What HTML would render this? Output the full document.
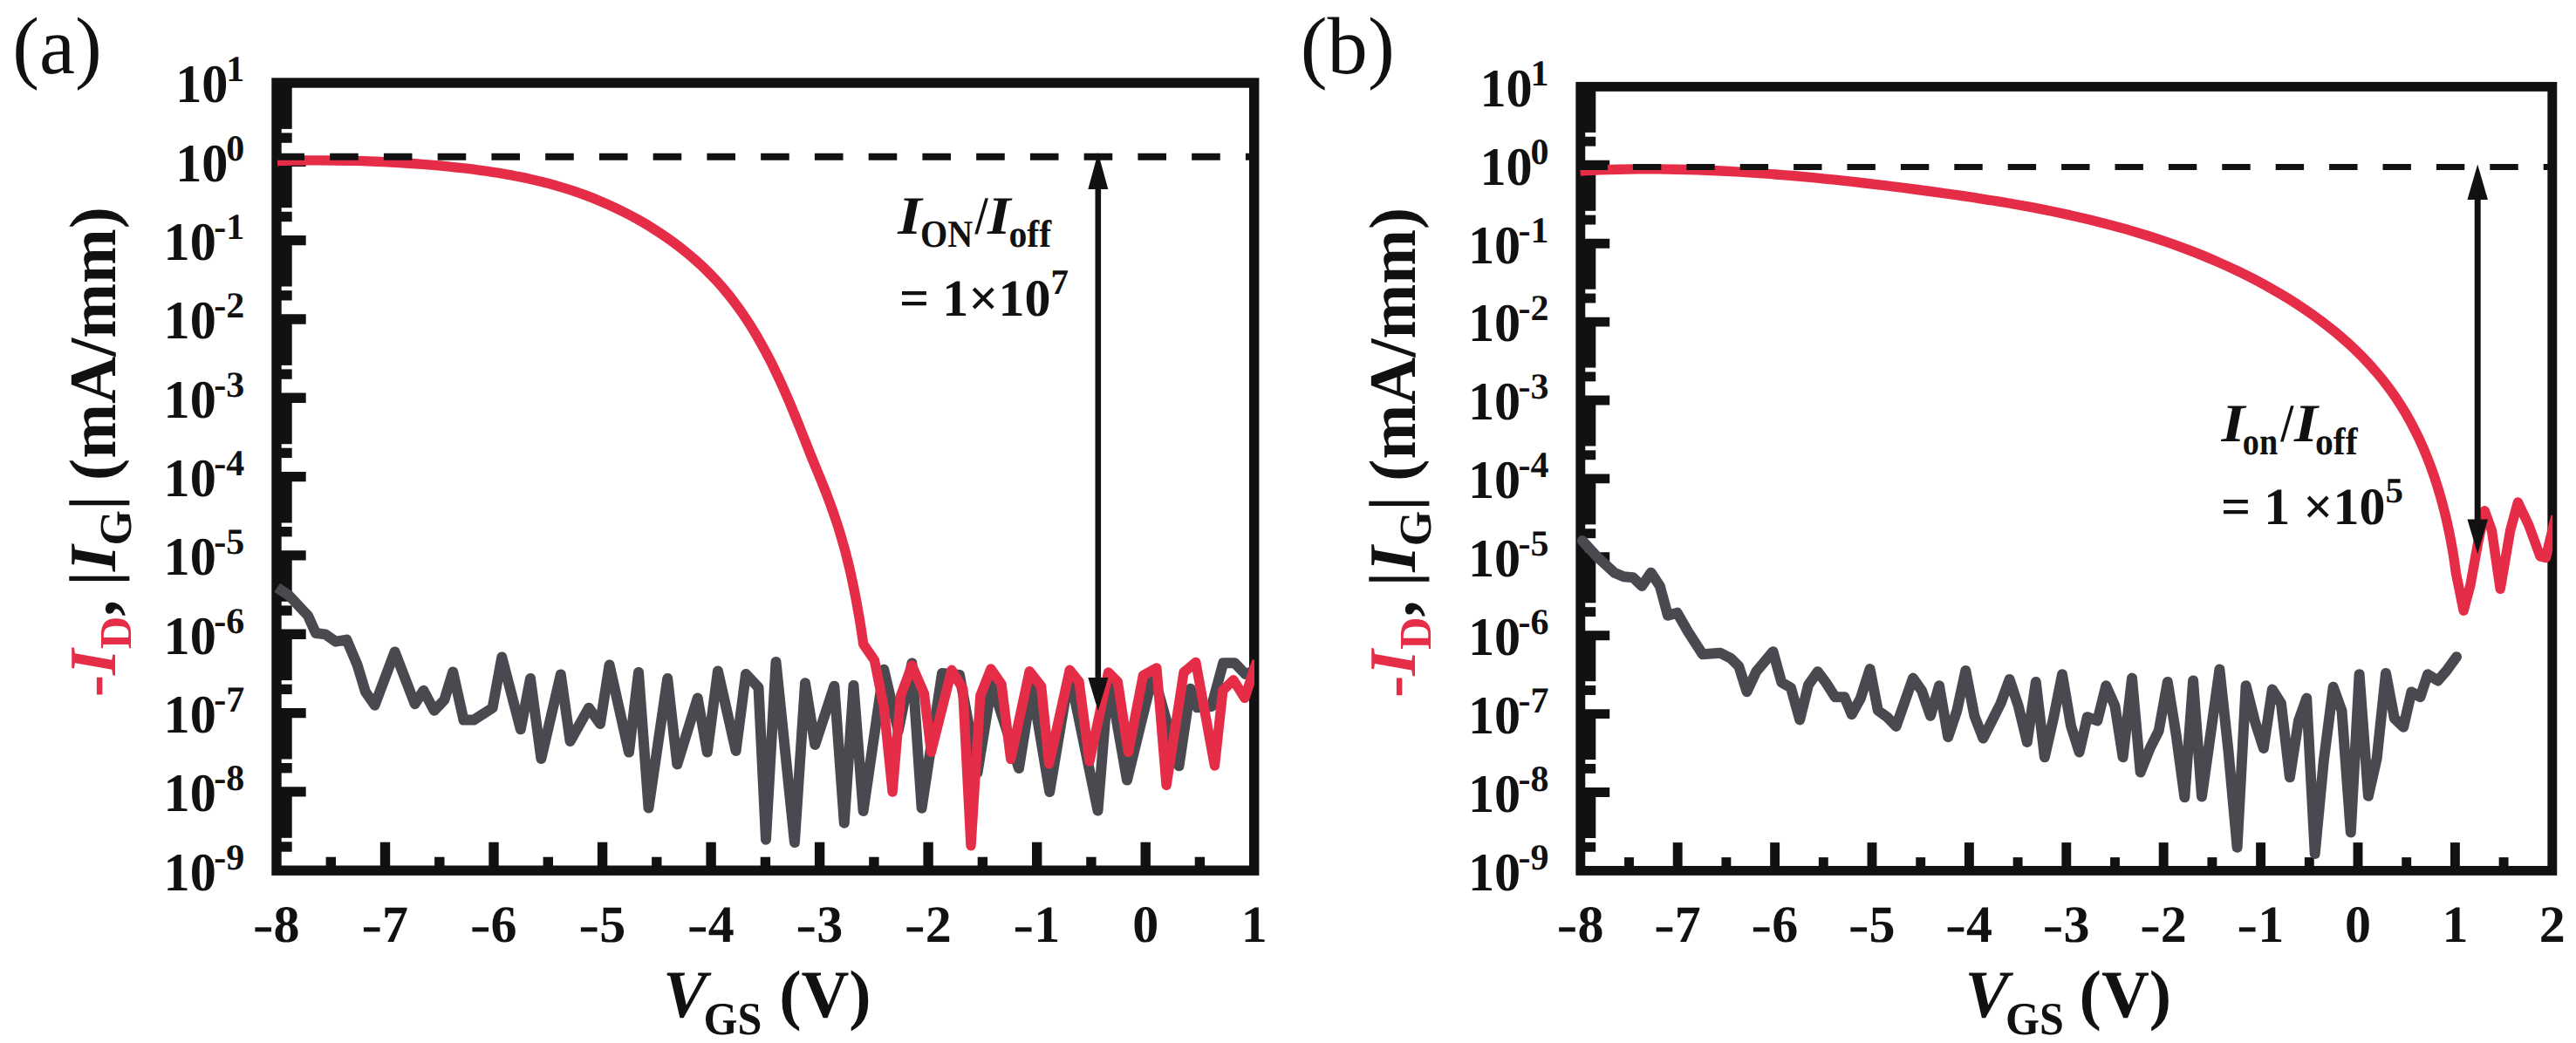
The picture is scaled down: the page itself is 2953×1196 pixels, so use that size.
<!DOCTYPE html>
<html lang="en"><head><meta charset="utf-8"><title>Transfer characteristics</title>
<style>html,body{margin:0;padding:0;background:#fff}svg{display:block} text{font-family:'Liberation Serif', 'Times New Roman', Times, serif;font-weight:bold;fill:#111111}</style></head><body>
<svg width="2953" height="1196" viewBox="0 0 2953 1196" text-rendering="geometricPrecision">
<rect width="2953" height="1196" fill="#ffffff"/>
<defs><clipPath id="clipA"><rect x="300" y="100" width="1138" height="895"/></clipPath><clipPath id="clipB"><rect x="1790" y="104" width="1136.2" height="891"/></clipPath></defs>
<!-- panel (a) -->
<text transform="translate(14.17,84.20) scale(0.9934,1)" font-size="93" style="font-weight:normal">(a)</text>
<g stroke="#111111" stroke-width="11.4" fill="none" stroke-linecap="butt">
<line x1="317.0" y1="158.1" x2="334.7" y2="158.1"/>
<rect x="317.0" y="95.0" width="17.7" height="52.9" fill="#111111" stroke="none"/>
<line x1="317.0" y1="185.3" x2="350.7" y2="185.3"/>
<line x1="317.0" y1="248.5" x2="334.7" y2="248.5"/>
<rect x="317.0" y="185.3" width="17.7" height="52.9" fill="#111111" stroke="none"/>
<line x1="317.0" y1="275.6" x2="350.7" y2="275.6"/>
<line x1="317.0" y1="338.8" x2="334.7" y2="338.8"/>
<rect x="317.0" y="275.6" width="17.7" height="52.9" fill="#111111" stroke="none"/>
<line x1="317.0" y1="366.0" x2="350.7" y2="366.0"/>
<line x1="317.0" y1="429.1" x2="334.7" y2="429.1"/>
<rect x="317.0" y="366.0" width="17.7" height="52.9" fill="#111111" stroke="none"/>
<line x1="317.0" y1="456.3" x2="350.7" y2="456.3"/>
<line x1="317.0" y1="519.4" x2="334.7" y2="519.4"/>
<rect x="317.0" y="456.3" width="17.7" height="52.9" fill="#111111" stroke="none"/>
<line x1="317.0" y1="546.6" x2="350.7" y2="546.6"/>
<line x1="317.0" y1="609.7" x2="334.7" y2="609.7"/>
<rect x="317.0" y="546.6" width="17.7" height="52.9" fill="#111111" stroke="none"/>
<line x1="317.0" y1="636.9" x2="350.7" y2="636.9"/>
<line x1="317.0" y1="700.1" x2="334.7" y2="700.1"/>
<rect x="317.0" y="636.9" width="17.7" height="52.9" fill="#111111" stroke="none"/>
<line x1="317.0" y1="727.2" x2="350.7" y2="727.2"/>
<line x1="317.0" y1="790.4" x2="334.7" y2="790.4"/>
<rect x="317.0" y="727.2" width="17.7" height="52.9" fill="#111111" stroke="none"/>
<line x1="317.0" y1="817.6" x2="350.7" y2="817.6"/>
<line x1="317.0" y1="880.7" x2="334.7" y2="880.7"/>
<rect x="317.0" y="817.6" width="17.7" height="52.9" fill="#111111" stroke="none"/>
<line x1="317.0" y1="907.9" x2="350.7" y2="907.9"/>
<line x1="317.0" y1="971.0" x2="334.7" y2="971.0"/>
<rect x="317.0" y="907.9" width="17.7" height="52.9" fill="#111111" stroke="none"/>
<line x1="379.3" y1="998.2" x2="379.3" y2="982.7"/>
<line x1="441.5" y1="998.2" x2="441.5" y2="965.7"/>
<line x1="503.8" y1="998.2" x2="503.8" y2="982.7"/>
<line x1="566.0" y1="998.2" x2="566.0" y2="965.7"/>
<line x1="628.3" y1="998.2" x2="628.3" y2="982.7"/>
<line x1="690.6" y1="998.2" x2="690.6" y2="965.7"/>
<line x1="752.8" y1="998.2" x2="752.8" y2="982.7"/>
<line x1="815.1" y1="998.2" x2="815.1" y2="965.7"/>
<line x1="877.4" y1="998.2" x2="877.4" y2="982.7"/>
<line x1="939.6" y1="998.2" x2="939.6" y2="965.7"/>
<line x1="1001.9" y1="998.2" x2="1001.9" y2="982.7"/>
<line x1="1064.1" y1="998.2" x2="1064.1" y2="965.7"/>
<line x1="1126.4" y1="998.2" x2="1126.4" y2="982.7"/>
<line x1="1188.7" y1="998.2" x2="1188.7" y2="965.7"/>
<line x1="1250.9" y1="998.2" x2="1250.9" y2="982.7"/>
<line x1="1313.2" y1="998.2" x2="1313.2" y2="965.7"/>
<line x1="1375.4" y1="998.2" x2="1375.4" y2="982.7"/>
<rect x="317.0" y="95.0" width="1120.7" height="903.2"/>
</g>
<g clip-path="url(#clipA)">
<polyline fill="none" stroke-width="12" stroke-linejoin="round" stroke-linecap="butt" stroke="#494A50" points="317.7,673.7 331.5,683.0 353.0,706.0 362.0,726.0 373.0,727.4 385.0,735.7 397.4,733.6 409.7,762.7 419.0,793.4 429.6,808.7 452.6,747.4 475.6,807.2 485.5,791.8 497.7,814.8 509.4,802.6 519.2,770.4 531.5,825.6 543.0,825.6 564.6,811.8 575.3,753.5 596.8,836.3 608.0,778.0 620.4,870.0 642.8,773.4 653.6,850.0 675.0,811.8 688.0,830.0 698.6,762.5 721.0,862.6 732.0,771.0 743.5,926.5 765.2,778.0 776.3,876.4 799.7,800.5 810.8,862.6 822.9,769.4 843.6,860.9 855.0,772.9 869.5,788.4 878.0,962.7 889.5,759.0 910.9,966.0 923.0,783.2 934.3,854.0 956.4,786.7 967.8,943.7 978.5,786.0 989.6,929.9 1013.2,767.7 1029.8,838.0 1045.4,760.5 1056.6,926.7 1080.0,772.0 1100.0,774.0 1120.5,886.0 1137.0,784.0 1168.0,881.0 1183.0,787.0 1203.2,908.0 1226.0,772.0 1258.5,929.5 1271.0,775.0 1292.0,894.6 1322.0,772.0 1351.5,878.3 1364.6,789.8 1372.6,811.3 1388.8,810.0 1402.2,760.3 1415.6,760.3 1427.5,773.0 1441.0,768.0"/>
<path fill="none" stroke-width="11.4" stroke-linejoin="round" stroke-linecap="butt" stroke="#E52D47" d="M318.0,184.5C320.7,184.4 328.8,184.2 334.2,184.1C339.6,184.0 345.0,184.0 350.4,183.9C355.8,183.9 361.2,183.9 366.6,183.9C372.1,183.9 377.5,183.9 382.9,184.0C388.4,184.0 393.8,184.1 399.2,184.2C404.7,184.3 410.1,184.5 415.6,184.6C421.0,184.8 426.4,185.0 431.9,185.2C437.3,185.5 442.8,185.7 448.2,186.0C453.7,186.3 459.1,186.6 464.5,187.0C470.0,187.3 475.4,187.7 480.8,188.1C486.3,188.5 491.7,189.0 497.1,189.4C502.5,189.9 507.9,190.4 513.3,190.9C518.7,191.5 524.1,192.1 529.5,192.7C534.9,193.3 540.3,193.9 545.7,194.6C551.0,195.3 556.4,196.1 561.7,196.9C567.1,197.7 572.4,198.5 577.8,199.4C583.1,200.4 588.4,201.3 593.7,202.4C599.0,203.4 604.3,204.5 609.5,205.7C614.8,206.9 620.0,208.2 625.3,209.6C630.5,210.9 635.7,212.3 640.9,213.9C646.1,215.4 651.3,217.0 656.4,218.7C661.6,220.5 666.7,222.3 671.9,224.2C677.0,226.1 682.0,228.1 687.1,230.2C692.1,232.3 697.2,234.5 702.1,236.8C707.1,239.1 712.0,241.5 716.9,244.0C721.8,246.5 726.6,249.1 731.4,251.8C736.1,254.5 740.9,257.2 745.5,260.1C750.2,263.0 754.8,265.9 759.3,269.0C763.8,272.0 768.3,275.2 772.6,278.4C777.0,281.6 781.3,284.9 785.5,288.4C789.7,291.8 793.8,295.3 797.9,298.9C801.9,302.4 805.9,306.1 809.7,309.9C813.5,313.7 817.3,317.5 820.9,321.4C824.6,325.4 828.1,329.4 831.5,333.5C835.0,337.6 838.3,341.8 841.5,346.1C844.7,350.4 847.9,354.7 850.9,359.1C854.0,363.5 856.9,368.0 859.8,372.5C862.7,377.1 865.5,381.7 868.2,386.3C870.9,391.0 873.5,395.7 876.1,400.5C878.7,405.2 881.2,410.1 883.7,414.9C886.1,419.7 888.5,424.6 890.8,429.6C893.2,434.5 895.5,439.5 897.7,444.5C899.9,449.4 902.1,454.5 904.3,459.5C906.4,464.5 908.5,469.6 910.6,474.7C912.7,479.8 914.8,484.9 916.8,490.0C918.8,495.0 920.8,500.2 922.9,505.3C924.9,510.4 926.9,515.5 928.9,520.6C931.0,525.7 933.0,530.8 935.1,535.9C937.2,541.0 939.3,546.1 941.4,551.1C943.4,556.2 945.4,561.2 947.4,566.2C949.3,571.2 951.2,576.2 953.0,581.2C954.8,586.2 956.5,591.2 958.2,596.3C959.9,601.3 961.5,606.3 963.0,611.4C964.5,616.4 966.0,621.5 967.4,626.6C968.9,631.8 970.2,636.9 971.5,642.2C972.8,647.4 974.1,652.7 975.3,658.0C976.5,663.4 977.6,668.8 978.7,674.2C979.8,679.6 980.9,685.1 981.9,690.5C982.9,695.9 983.8,701.4 984.8,706.8C985.7,712.2 986.6,717.6 987.4,723.0C988.2,728.3 989.4,736.2 989.8,738.8L1002.5,757.3L1013.4,812.0L1023.1,908.0L1032.5,797.9L1045.4,763.0L1059.4,795.2L1067.4,862.3L1091.0,768.3L1103.7,789.8L1113.0,969.7L1123.8,797.9L1135.9,767.0L1148.0,784.4L1158.7,870.4L1180.2,769.7L1193.6,787.1L1202.6,875.8L1226.3,768.3L1237.0,781.8L1249.0,873.0L1270.6,771.0L1281.3,781.8L1293.4,862.4L1310.4,774.5L1325.9,765.9L1337.1,900.5L1357.0,771.0L1370.8,759.5L1392.4,878.0L1401.8,791.8L1413.9,779.7L1426.9,800.4L1438.1,765.9L1441.0,758.0"/>
</g>
<line x1="316.4" y1="179.8" x2="1437.7" y2="179.8" stroke="#111111" stroke-width="8" stroke-dasharray="32.6 29.15"/>
<line x1="1258.8" y1="215.0" x2="1258.8" y2="779.0" stroke="#111111" stroke-width="6.6"/>
<polygon fill="#111111" points="1258.8,175.0 1247.3,217.0 1270.3,217.0"/>
<polygon fill="#111111" points="1258.8,815.0 1247.3,777.0 1270.3,777.0"/>
<text transform="translate(201.18,117.30) scale(0.9723,1)" font-size="62">10</text>
<text x="280.3" y="93.3" text-anchor="end" font-size="42">1</text>
<text transform="translate(201.18,207.62) scale(0.9723,1)" font-size="62">10</text>
<text x="280.3" y="183.6" text-anchor="end" font-size="42">0</text>
<text transform="translate(187.58,297.94) scale(0.9723,1)" font-size="62">10</text>
<text x="280.3" y="273.9" text-anchor="end" font-size="42">-1</text>
<text transform="translate(187.58,388.26) scale(0.9723,1)" font-size="62">10</text>
<text x="280.3" y="364.3" text-anchor="end" font-size="42">-2</text>
<text transform="translate(187.58,478.58) scale(0.9723,1)" font-size="62">10</text>
<text x="280.3" y="454.6" text-anchor="end" font-size="42">-3</text>
<text transform="translate(187.58,568.90) scale(0.9723,1)" font-size="62">10</text>
<text x="280.3" y="544.9" text-anchor="end" font-size="42">-4</text>
<text transform="translate(187.58,659.22) scale(0.9723,1)" font-size="62">10</text>
<text x="280.3" y="635.2" text-anchor="end" font-size="42">-5</text>
<text transform="translate(187.58,749.54) scale(0.9723,1)" font-size="62">10</text>
<text x="280.3" y="725.5" text-anchor="end" font-size="42">-6</text>
<text transform="translate(187.58,839.86) scale(0.9723,1)" font-size="62">10</text>
<text x="280.3" y="815.9" text-anchor="end" font-size="42">-7</text>
<text transform="translate(187.58,930.18) scale(0.9723,1)" font-size="62">10</text>
<text x="280.3" y="906.2" text-anchor="end" font-size="42">-8</text>
<text transform="translate(187.58,1020.50) scale(0.9723,1)" font-size="62">10</text>
<text x="280.3" y="996.5" text-anchor="end" font-size="42">-9</text>
<text transform="translate(289.70,1080.20) scale(1.1987,1)" font-size="60">-</text>
<text x="328.6" y="1080.2" text-anchor="middle" font-size="60">8</text>
<text transform="translate(414.23,1080.20) scale(1.1987,1)" font-size="60">-</text>
<text x="453.1" y="1080.2" text-anchor="middle" font-size="60">7</text>
<text transform="translate(538.75,1080.20) scale(1.1987,1)" font-size="60">-</text>
<text x="577.6" y="1080.2" text-anchor="middle" font-size="60">6</text>
<text transform="translate(663.27,1080.20) scale(1.1987,1)" font-size="60">-</text>
<text x="702.2" y="1080.2" text-anchor="middle" font-size="60">5</text>
<text transform="translate(787.79,1080.20) scale(1.1987,1)" font-size="60">-</text>
<text x="826.7" y="1080.2" text-anchor="middle" font-size="60">4</text>
<text transform="translate(912.31,1080.20) scale(1.1987,1)" font-size="60">-</text>
<text x="951.2" y="1080.2" text-anchor="middle" font-size="60">3</text>
<text transform="translate(1036.84,1080.20) scale(1.1987,1)" font-size="60">-</text>
<text x="1075.7" y="1080.2" text-anchor="middle" font-size="60">2</text>
<text transform="translate(1161.36,1080.20) scale(1.1987,1)" font-size="60">-</text>
<text x="1200.3" y="1080.2" text-anchor="middle" font-size="60">1</text>
<text x="1313.2" y="1080.2" text-anchor="middle" font-size="60">0</text>
<text x="1437.7" y="1080.2" text-anchor="middle" font-size="60">1</text>
<text transform="translate(132.4,800.0) rotate(-90)" x="0.8" font-size="76"><tspan fill="#E52D47">-<tspan font-style="italic">I</tspan><tspan font-size="52" dy="18">D</tspan></tspan><tspan dy="-18">,</tspan><tspan dx="-3"> |</tspan><tspan font-style="italic">I</tspan><tspan font-size="52" dy="18">G</tspan><tspan dy="-18">|</tspan></text>
<text transform="translate(132.40,800.00) rotate(-90) translate(249.10,0.00) scale(0.9910,1)" font-size="76">(mA/mm)</text>
<text transform="translate(759.95,1166.00) scale(0.9815,1)" font-size="77" font-style="italic">V</text>
<text transform="translate(806.62,1186.30) scale(0.9457,1)" font-size="53">GS</text>
<text transform="translate(893.17,1166.00) scale(0.9871,1)" font-size="77">(V)</text>
<text transform="translate(1029.20,268.00) scale(1.1319,1)" font-size="62" font-style="italic">I</text>
<text transform="translate(1054.99,282.60) scale(0.9122,1)" font-size="44">ON</text>
<text transform="translate(1117.83,268.00) scale(0.8512,1)" font-size="62">/</text>
<text transform="translate(1131.98,268.00) scale(1.1017,1)" font-size="62" font-style="italic">I</text>
<text transform="translate(1156.43,282.60) scale(0.9491,1)" font-size="44">off</text>
<text x="1031" y="362" font-size="60">= 1×10<tspan font-size="41" dy="-25">7</tspan></text>
<!-- panel (b) -->
<text transform="translate(1490.76,84.20) scale(0.9956,1)" font-size="93" style="font-weight:normal">(b)</text>
<g stroke="#111111" stroke-width="10.9" fill="none" stroke-linecap="butt">
<line x1="1811.8" y1="162.2" x2="1829.2" y2="162.2"/>
<rect x="1811.8" y="99.4" width="17.5" height="52.5" fill="#111111" stroke="none"/>
<line x1="1811.8" y1="189.3" x2="1845.2" y2="189.3"/>
<line x1="1811.8" y1="252.1" x2="1829.2" y2="252.1"/>
<rect x="1811.8" y="189.3" width="17.5" height="52.5" fill="#111111" stroke="none"/>
<line x1="1811.8" y1="279.2" x2="1845.2" y2="279.2"/>
<line x1="1811.8" y1="342.0" x2="1829.2" y2="342.0"/>
<rect x="1811.8" y="279.2" width="17.5" height="52.5" fill="#111111" stroke="none"/>
<line x1="1811.8" y1="369.1" x2="1845.2" y2="369.1"/>
<line x1="1811.8" y1="431.9" x2="1829.2" y2="431.9"/>
<rect x="1811.8" y="369.1" width="17.5" height="52.5" fill="#111111" stroke="none"/>
<line x1="1811.8" y1="459.0" x2="1845.2" y2="459.0"/>
<line x1="1811.8" y1="521.8" x2="1829.2" y2="521.8"/>
<rect x="1811.8" y="459.0" width="17.5" height="52.5" fill="#111111" stroke="none"/>
<line x1="1811.8" y1="548.9" x2="1845.2" y2="548.9"/>
<line x1="1811.8" y1="611.7" x2="1829.2" y2="611.7"/>
<rect x="1811.8" y="548.9" width="17.5" height="52.5" fill="#111111" stroke="none"/>
<line x1="1811.8" y1="638.8" x2="1845.2" y2="638.8"/>
<line x1="1811.8" y1="701.6" x2="1829.2" y2="701.6"/>
<rect x="1811.8" y="638.8" width="17.5" height="52.5" fill="#111111" stroke="none"/>
<line x1="1811.8" y1="728.7" x2="1845.2" y2="728.7"/>
<line x1="1811.8" y1="791.5" x2="1829.2" y2="791.5"/>
<rect x="1811.8" y="728.7" width="17.5" height="52.5" fill="#111111" stroke="none"/>
<line x1="1811.8" y1="818.6" x2="1845.2" y2="818.6"/>
<line x1="1811.8" y1="881.4" x2="1829.2" y2="881.4"/>
<rect x="1811.8" y="818.6" width="17.5" height="52.5" fill="#111111" stroke="none"/>
<line x1="1811.8" y1="908.5" x2="1845.2" y2="908.5"/>
<line x1="1811.8" y1="971.3" x2="1829.2" y2="971.3"/>
<rect x="1811.8" y="908.5" width="17.5" height="52.5" fill="#111111" stroke="none"/>
<line x1="1867.5" y1="998.4" x2="1867.5" y2="983.1"/>
<line x1="1923.2" y1="998.4" x2="1923.2" y2="966.1"/>
<line x1="1978.9" y1="998.4" x2="1978.9" y2="983.1"/>
<line x1="2034.6" y1="998.4" x2="2034.6" y2="966.1"/>
<line x1="2090.3" y1="998.4" x2="2090.3" y2="983.1"/>
<line x1="2146.0" y1="998.4" x2="2146.0" y2="966.1"/>
<line x1="2201.7" y1="998.4" x2="2201.7" y2="983.1"/>
<line x1="2257.4" y1="998.4" x2="2257.4" y2="966.1"/>
<line x1="2313.1" y1="998.4" x2="2313.1" y2="983.1"/>
<line x1="2368.8" y1="998.4" x2="2368.8" y2="966.1"/>
<line x1="2424.5" y1="998.4" x2="2424.5" y2="983.1"/>
<line x1="2480.2" y1="998.4" x2="2480.2" y2="966.1"/>
<line x1="2535.9" y1="998.4" x2="2535.9" y2="983.1"/>
<line x1="2591.6" y1="998.4" x2="2591.6" y2="966.1"/>
<line x1="2647.3" y1="998.4" x2="2647.3" y2="983.1"/>
<line x1="2703.0" y1="998.4" x2="2703.0" y2="966.1"/>
<line x1="2758.7" y1="998.4" x2="2758.7" y2="983.1"/>
<line x1="2814.4" y1="998.4" x2="2814.4" y2="966.1"/>
<line x1="2870.1" y1="998.4" x2="2870.1" y2="983.1"/>
<rect x="1811.8" y="99.4" width="1114.0" height="899.0"/>
</g>
<g clip-path="url(#clipB)">
<polyline fill="none" stroke-width="12" stroke-linejoin="round" stroke-linecap="round" stroke="#494A50" points="1813.8,619.9 1830.7,638.3 1850.6,656.7 1861.3,661.3 1872.1,662.2 1882.2,672.0 1892.6,656.7 1902.8,672.0 1912.0,705.8 1922.7,702.7 1935.0,724.2 1951.8,750.2 1971.8,748.7 1984.0,754.8 1993.3,764.0 2002.5,793.2 2013.2,770.2 2032.5,747.2 2042.3,782.5 2053.0,788.6 2063.2,825.4 2073.0,785.5 2083.7,770.2 2093.0,782.5 2103.7,799.3 2114.4,799.3 2122.7,819.3 2132.8,800.9 2143.6,767.1 2152.8,814.7 2163.5,822.3 2173.6,833.0 2193.0,777.6 2203.0,792.0 2213.0,820.8 2223.0,786.3 2233.2,845.2 2243.3,815.0 2253.3,769.0 2263.4,820.8 2273.4,846.6 2283.5,826.5 2293.6,806.4 2303.6,779.0 2313.7,809.3 2323.8,851.0 2333.8,782.0 2343.9,868.2 2354.0,823.6 2364.0,773.3 2374.0,832.3 2383.6,862.5 2392.8,822.2 2404.3,826.5 2414.3,786.3 2424.4,809.3 2433.6,868.2 2444.0,777.6 2453.7,885.5 2464.6,858.1 2474.7,838.0 2484.8,782.0 2494.8,843.8 2504.3,914.2 2514.1,780.5 2524.0,913.5 2532.2,855.3 2544.4,767.6 2554.5,861.0 2564.6,971.7 2574.6,786.3 2584.7,826.5 2594.8,858.0 2604.8,790.6 2614.9,806.4 2624.9,891.2 2635.0,826.5 2644.2,800.6 2653.7,978.9 2663.8,872.5 2674.7,787.7 2684.5,815.0 2694.8,954.5 2704.6,773.3 2714.9,912.8 2724.7,869.6 2735.0,771.9 2744.8,823.6 2755.2,833.7 2764.4,793.4 2774.5,799.2 2783.0,773.3 2794.6,780.5 2804.6,769.0 2816.0,753.2"/>
<path fill="none" stroke-width="11.4" stroke-linejoin="round" stroke-linecap="butt" stroke="#E52D47" d="M1811.5,196.0C1815.2,195.8 1826.1,195.2 1833.5,194.9C1840.8,194.6 1848.2,194.4 1855.6,194.2C1863.0,194.0 1870.4,193.9 1877.8,193.9C1885.2,193.8 1892.6,193.8 1900.1,193.9C1907.5,193.9 1915.0,194.0 1922.5,194.2C1930.0,194.3 1937.5,194.5 1945.0,194.8C1952.5,195.0 1960.0,195.3 1967.5,195.7C1975.0,196.0 1982.6,196.4 1990.1,196.9C1997.6,197.3 2005.2,197.8 2012.8,198.3C2020.3,198.8 2027.9,199.4 2035.4,200.0C2043.0,200.6 2050.6,201.2 2058.2,201.8C2065.7,202.5 2073.3,203.2 2080.9,203.9C2088.5,204.7 2096.0,205.4 2103.6,206.2C2111.2,207.0 2118.8,207.9 2126.3,208.7C2133.9,209.6 2141.5,210.4 2149.1,211.3C2156.6,212.2 2164.2,213.2 2171.7,214.1C2179.3,215.0 2186.8,216.0 2194.4,217.0C2201.9,218.0 2209.5,219.0 2217.0,220.0C2224.5,221.0 2232.0,222.1 2239.5,223.1C2247.0,224.2 2254.5,225.3 2262.0,226.4C2269.5,227.6 2276.9,228.7 2284.4,230.0C2291.8,231.2 2299.3,232.4 2306.7,233.7C2314.1,235.0 2321.5,236.3 2328.9,237.7C2336.3,239.1 2343.6,240.5 2351.0,242.0C2358.3,243.5 2365.6,245.1 2372.9,246.7C2380.2,248.3 2387.5,250.0 2394.8,251.7C2402.0,253.5 2409.2,255.3 2416.4,257.2C2423.6,259.1 2430.8,261.1 2438.0,263.1C2445.1,265.2 2452.2,267.3 2459.3,269.5C2466.4,271.7 2473.5,274.0 2480.5,276.4C2487.6,278.8 2494.6,281.3 2501.5,283.9C2508.5,286.4 2515.4,289.1 2522.3,291.9C2529.2,294.7 2536.1,297.6 2542.9,300.6C2549.8,303.6 2556.6,306.7 2563.3,309.9C2570.1,313.1 2576.8,316.5 2583.5,319.9C2590.1,323.4 2596.8,327.0 2603.3,330.7C2609.9,334.4 2616.4,338.2 2622.8,342.2C2629.2,346.2 2635.6,350.3 2641.8,354.5C2648.0,358.7 2654.2,363.1 2660.2,367.6C2666.2,372.1 2672.1,376.7 2677.9,381.5C2683.6,386.3 2689.3,391.2 2694.8,396.3C2700.2,401.4 2705.6,406.6 2710.7,412.0C2715.9,417.4 2720.9,422.9 2725.7,428.6C2730.5,434.2 2735.1,440.1 2739.5,446.1C2743.9,452.1 2748.1,458.3 2752.1,464.6C2756.1,470.9 2759.9,477.4 2763.4,484.0C2767.0,490.6 2770.4,497.3 2773.6,504.2C2776.8,511.0 2779.8,518.0 2782.6,525.0C2785.4,532.1 2788.0,539.2 2790.5,546.4C2792.9,553.7 2795.2,560.9 2797.3,568.3C2799.4,575.6 2801.4,583.0 2803.2,590.4C2805.0,597.8 2806.6,605.2 2808.1,612.6C2809.6,620.0 2810.9,627.5 2812.2,634.9C2813.4,642.3 2814.9,653.4 2815.4,657.1L2824.1,700.2L2832.0,670.5L2840.2,624.9L2848.3,585.8L2856.5,608.6L2866.2,675.4L2877.6,608.6L2886.4,576.0L2898.8,602.1L2911.9,637.9L2918.4,639.6L2926.5,605.3L2930.0,592.0"/>
</g>
<line x1="1810.5" y1="191.6" x2="2925.8" y2="191.6" stroke="#111111" stroke-width="7" stroke-dasharray="32.4 29.0"/>
<line x1="2840.2" y1="227.0" x2="2840.2" y2="597.5" stroke="#111111" stroke-width="7.0"/>
<polygon fill="#111111" points="2840.2,188.5 2828.45,229.0 2851.95,229.0"/>
<polygon fill="#111111" points="2840.2,635.0 2828.45,595.5 2851.95,595.5"/>
<text transform="translate(1696.48,121.70) scale(0.9723,1)" font-size="62">10</text>
<text x="1775.6" y="97.7" text-anchor="end" font-size="42">1</text>
<text transform="translate(1696.48,211.60) scale(0.9723,1)" font-size="62">10</text>
<text x="1775.6" y="187.6" text-anchor="end" font-size="42">0</text>
<text transform="translate(1682.88,301.50) scale(0.9723,1)" font-size="62">10</text>
<text x="1775.6" y="277.5" text-anchor="end" font-size="42">-1</text>
<text transform="translate(1682.88,391.40) scale(0.9723,1)" font-size="62">10</text>
<text x="1775.6" y="367.4" text-anchor="end" font-size="42">-2</text>
<text transform="translate(1682.88,481.30) scale(0.9723,1)" font-size="62">10</text>
<text x="1775.6" y="457.3" text-anchor="end" font-size="42">-3</text>
<text transform="translate(1682.88,571.20) scale(0.9723,1)" font-size="62">10</text>
<text x="1775.6" y="547.2" text-anchor="end" font-size="42">-4</text>
<text transform="translate(1682.88,661.10) scale(0.9723,1)" font-size="62">10</text>
<text x="1775.6" y="637.1" text-anchor="end" font-size="42">-5</text>
<text transform="translate(1682.88,751.00) scale(0.9723,1)" font-size="62">10</text>
<text x="1775.6" y="727.0" text-anchor="end" font-size="42">-6</text>
<text transform="translate(1682.88,840.90) scale(0.9723,1)" font-size="62">10</text>
<text x="1775.6" y="816.9" text-anchor="end" font-size="42">-7</text>
<text transform="translate(1682.88,930.80) scale(0.9723,1)" font-size="62">10</text>
<text x="1775.6" y="906.8" text-anchor="end" font-size="42">-8</text>
<text transform="translate(1682.88,1020.70) scale(0.9723,1)" font-size="62">10</text>
<text x="1775.6" y="996.7" text-anchor="end" font-size="42">-9</text>
<text transform="translate(1784.50,1080.20) scale(1.1987,1)" font-size="60">-</text>
<text x="1823.4" y="1080.2" text-anchor="middle" font-size="60">8</text>
<text transform="translate(1895.90,1080.20) scale(1.1987,1)" font-size="60">-</text>
<text x="1934.8" y="1080.2" text-anchor="middle" font-size="60">7</text>
<text transform="translate(2007.30,1080.20) scale(1.1987,1)" font-size="60">-</text>
<text x="2046.2" y="1080.2" text-anchor="middle" font-size="60">6</text>
<text transform="translate(2118.70,1080.20) scale(1.1987,1)" font-size="60">-</text>
<text x="2157.6" y="1080.2" text-anchor="middle" font-size="60">5</text>
<text transform="translate(2230.10,1080.20) scale(1.1987,1)" font-size="60">-</text>
<text x="2269.0" y="1080.2" text-anchor="middle" font-size="60">4</text>
<text transform="translate(2341.50,1080.20) scale(1.1987,1)" font-size="60">-</text>
<text x="2380.4" y="1080.2" text-anchor="middle" font-size="60">3</text>
<text transform="translate(2452.90,1080.20) scale(1.1987,1)" font-size="60">-</text>
<text x="2491.8" y="1080.2" text-anchor="middle" font-size="60">2</text>
<text transform="translate(2564.30,1080.20) scale(1.1987,1)" font-size="60">-</text>
<text x="2603.2" y="1080.2" text-anchor="middle" font-size="60">1</text>
<text x="2703.0" y="1080.2" text-anchor="middle" font-size="60">0</text>
<text x="2814.4" y="1080.2" text-anchor="middle" font-size="60">1</text>
<text x="2925.8" y="1080.2" text-anchor="middle" font-size="60">2</text>
<text transform="translate(1622.0,800.8) rotate(-90)" x="0.8" font-size="76"><tspan fill="#E52D47">-<tspan font-style="italic">I</tspan><tspan font-size="52" dy="18">D</tspan></tspan><tspan dy="-18">,</tspan><tspan dx="-3"> |</tspan><tspan font-style="italic">I</tspan><tspan font-size="52" dy="18">G</tspan><tspan dy="-18">|</tspan></text>
<text transform="translate(1622.00,800.80) rotate(-90) translate(249.10,0.00) scale(0.9910,1)" font-size="76">(mA/mm)</text>
<text transform="translate(2252.45,1166.00) scale(0.9815,1)" font-size="77" font-style="italic">V</text>
<text transform="translate(2299.12,1186.30) scale(0.9457,1)" font-size="53">GS</text>
<text transform="translate(2383.57,1166.00) scale(0.9871,1)" font-size="77">(V)</text>
<text transform="translate(2546.59,505.60) scale(1.1168,1)" font-size="62" font-style="italic">I</text>
<text transform="translate(2570.87,521.00) scale(0.8661,1)" font-size="44">on</text>
<text transform="translate(2614.49,505.60) scale(0.8500,1)" font-size="62">/</text>
<text transform="translate(2629.89,505.60) scale(1.1205,1)" font-size="62" font-style="italic">I</text>
<text transform="translate(2653.94,521.00) scale(0.9471,1)" font-size="44">off</text>
<text x="2546" y="601" font-size="60">= 1 ×10<tspan font-size="41" dy="-25">5</tspan></text>
</svg>
</body></html>
